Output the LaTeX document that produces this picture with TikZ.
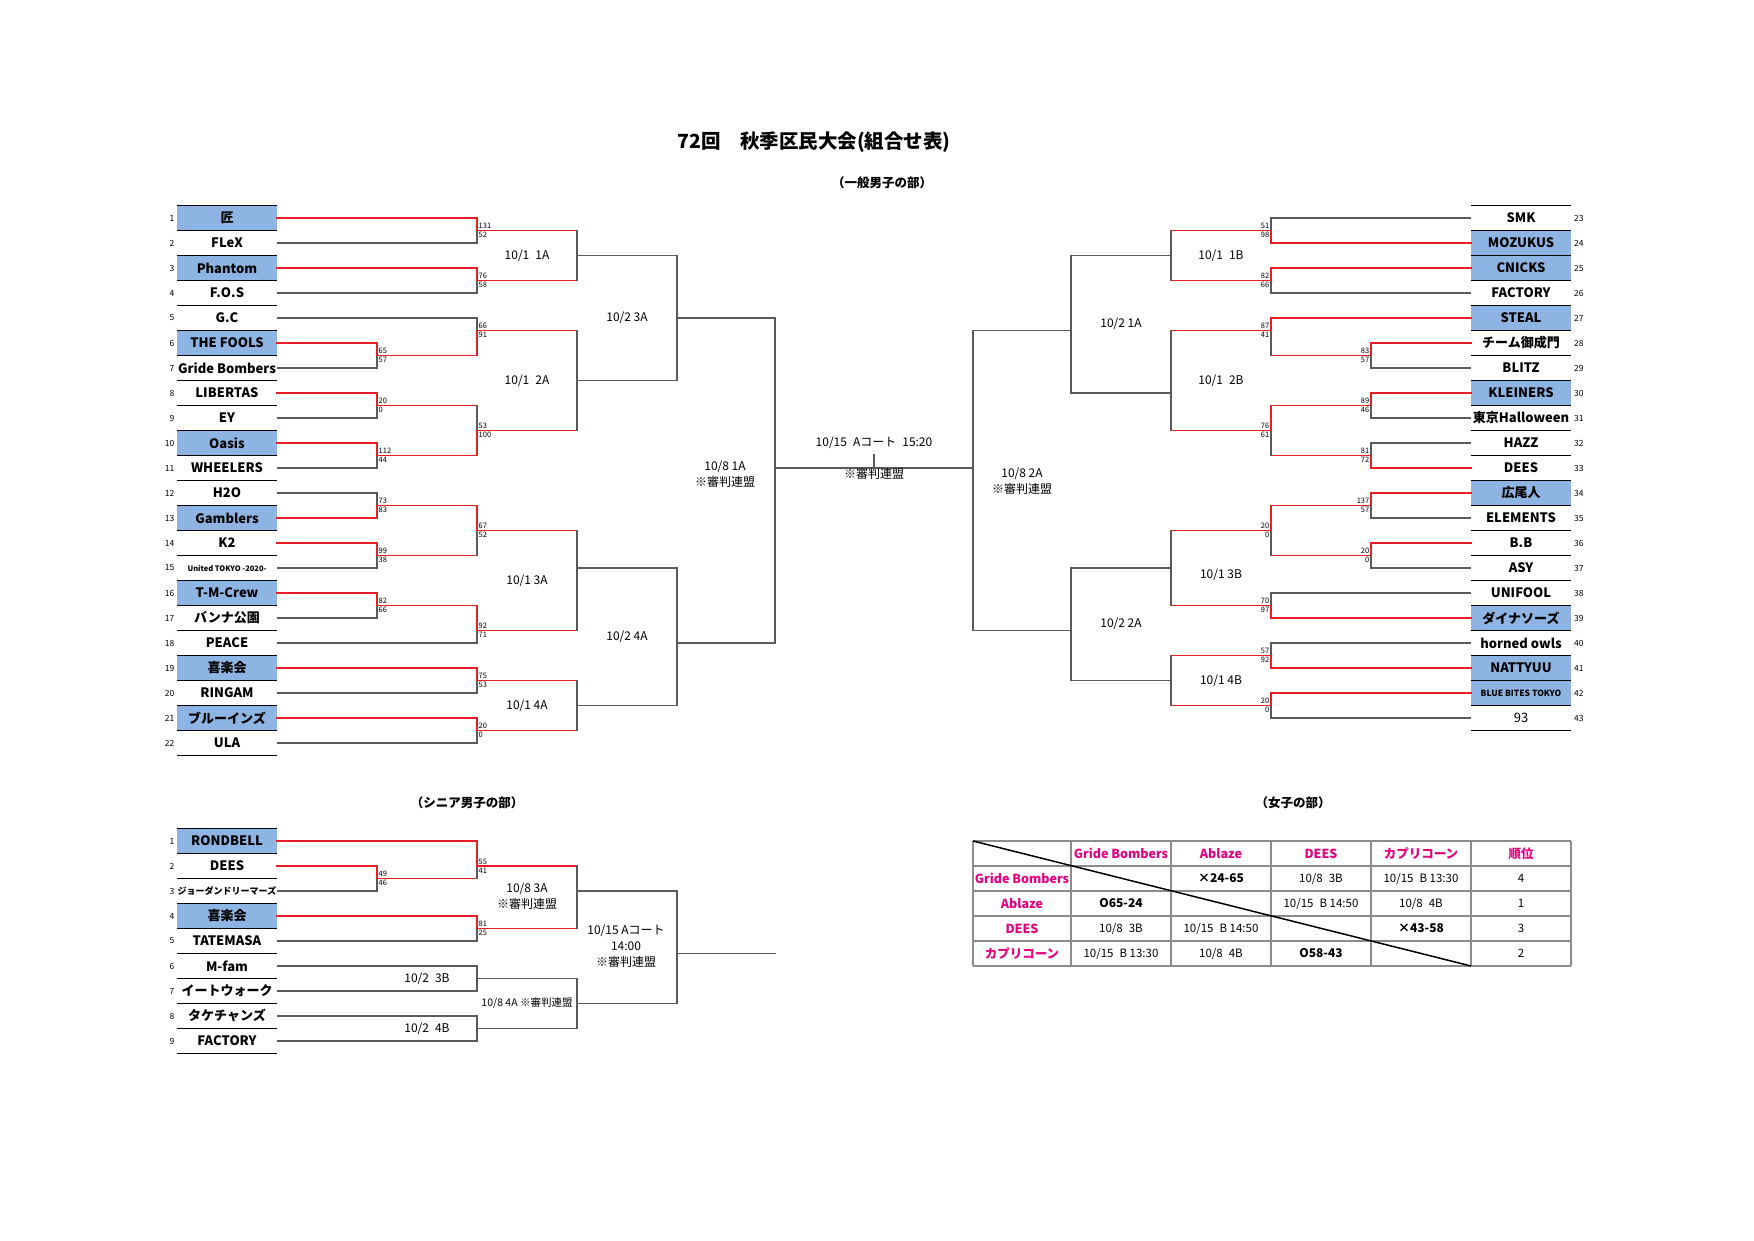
\documentclass[tikz,border=0pt]{standalone}
\usepackage{fontspec}
\setmainfont{Noto Sans CJK JP}
\usetikzlibrary{calc}
\definecolor{seedblue}{RGB}{141,180,226}
\definecolor{winred}{RGB}{232,30,37}
\definecolor{linegray}{RGB}{90,90,90}
\definecolor{gridgray}{RGB}{140,140,140}
\definecolor{headpink}{RGB}{230,0,126}
\tikzstyle{team} = [minimum width=100pt, minimum height=25pt, inner sep=0pt, font=\fontsize{13}{15}\selectfont\bfseries]
\tikzstyle{num} = [inner sep=0pt, font=\fontsize{8.5}{10}\selectfont]
\tikzstyle{score} = [inner sep=1.5pt, font=\fontsize{7.5}{8}\selectfont]
\tikzstyle{date} = [inner sep=0pt, font=\fontsize{12}{16}\selectfont]
\tikzstyle{title} = [font=\fontsize{19.5}{22}\selectfont\bfseries]
\tikzstyle{section} = [font=\fontsize{12.5}{14}\selectfont\bfseries]
\tikzstyle{rule} = [draw=black, line width=1.5pt]
\tikzstyle{win} = [draw=winred, line width=1.5pt, line cap=rect]
\tikzstyle{lose} = [draw=linegray, line width=1.2pt, line cap=rect]
\tikzstyle{grid} = [draw=gridgray, line width=1.5pt]
\tikzstyle{diag} = [draw=black, line width=1.5pt]
\tikzstyle{head} = [font=\fontsize{12.5}{14}\selectfont\bfseries, text=headpink]
\tikzstyle{cell} = [font=\fontsize{11.5}{13}\selectfont]
\tikzstyle{result} = [font=\fontsize{12}{14}\selectfont\bfseries]
% one team line into a junction: horizontal part, then vertical part
\newcommand{\feed}[4]{\draw[#3] (#1) -- (#1 -| #2); \draw[#4] (#1 -| #2) -- (#2);}
% a game: name, point, loser feed, winner feed
\newcommand{\bout}[8]{\coordinate (#1) at #2; \feed{#3}{#1}{#4}{#5} \feed{#6}{#1}{#7}{#8}}
\newcommand{\ptsL}[3]{\node (#1u) [score, anchor=south west] at (#1) {#2}; \node (#1d) [score, anchor=north west] at (#1) {#3};}
\newcommand{\ptsR}[3]{\node (#1u) [score, anchor=south east] at (#1) {#2}; \node (#1d) [score, anchor=north east] at (#1) {#3};}
\newcommand{\gap}{\hspace{6pt}}

\begin{document}
\begin{tikzpicture}[x=1pt, y=-1pt]
\useasboundingbox (0,0) rectangle (1754,1240);
\node (title) [title] at (814,142) {72回　秋季区民大会(組合せ表)};
\node (general) [section] at (882,183) {（一般男子の部）};
\node (senior) [section] at (467,803) {（シニア男子の部）};
\node (women) [section] at (1293,803) {（女子の部）};

% left block
\foreach \n/\name/\shade in {1/匠/seedblue, 2/FLeX/none, 3/Phantom/seedblue, 4/F.O.S/none, 5/G.C/none, 6/THE FOOLS/seedblue, 7/Gride Bombers/none, 8/LIBERTAS/none, 9/EY/none, 10/Oasis/seedblue, 11/WHEELERS/none, 12/H2O/none, 13/Gamblers/seedblue, 14/K2/none, 15/{\fontsize{7.5}{9}\selectfont United TOKYO -2020-}/none, 16/T-M-Crew/seedblue, 17/バンナ公園/none, 18/PEACE/none, 19/喜楽会/seedblue, 20/RINGAM/none, 21/ブルーインズ/seedblue, 22/ULA/none}{
  \node (team\n) [team, fill=\shade] at (227,{193+25*\n}) {\name};
  \node (num\n) [num, anchor=east] at (174.5,{193+25*\n}) {\n};
  \draw[rule] (team\n.north west) -- (team\n.north east) (team\n.south west) -- (team\n.south east);
}
% right block
\foreach \n/\name/\shade in {23/SMK/none, 24/MOZUKUS/seedblue, 25/CNICKS/seedblue, 26/FACTORY/none, 27/STEAL/seedblue, 28/チーム御成門/none, 29/BLITZ/none, 30/KLEINERS/seedblue, 31/東京Halloween/none, 32/HAZZ/none, 33/DEES/none, 34/広尾人/seedblue, 35/ELEMENTS/none, 36/B.B/none, 37/ASY/none, 38/UNIFOOL/none, 39/ダイナソーズ/seedblue, 40/horned owls/none, 41/NATTYUU/seedblue, 42/{\fontsize{8.5}{10}\selectfont BLUE BITES TOKYO}/seedblue, 43/{\mdseries 93}/none}{
  \node (team\n) [team, fill=\shade] at (1521,{25*\n-357}) {\name};
  \node (num\n) [num, anchor=west] at (1574,{25*\n-357}) {\n};
  \draw[rule] (team\n.north west) -- (team\n.north east) (team\n.south west) -- (team\n.south east);
}
% senior block
\foreach \n/\name/\shade in {1/RONDBELL/seedblue, 2/DEES/none, 3/{\fontsize{9}{10}\selectfont ジョーダンドリーマーズ}/none, 4/喜楽会/seedblue, 5/TATEMASA/none, 6/M-fam/none, 7/イートウォーク/none, 8/タケチャンズ/none, 9/FACTORY/none}{
  \node (senior\n) [team, fill=\shade] at (227,{816+25*\n}) {\name};
  \node (snum\n) [num, anchor=east] at (174.5,{816+25*\n}) {\n};
  \draw[rule] (senior\n.north west) -- (senior\n.north east) (senior\n.south west) -- (senior\n.south east);
}

% left games
\bout{a6}{(377,355.5)}{team7.east}{lose}{lose}{team6.east}{win}{win}
\ptsL{a6}{65}{57}
\bout{a8}{(377,405.5)}{team9.east}{lose}{lose}{team8.east}{win}{win}
\ptsL{a8}{20}{0}
\bout{a10}{(377,455.5)}{team11.east}{lose}{lose}{team10.east}{win}{win}
\ptsL{a10}{112}{44}
\bout{a12}{(377,505.5)}{team12.east}{lose}{lose}{team13.east}{win}{win}
\ptsL{a12}{73}{83}
\bout{a14}{(377,555.5)}{team15.east}{lose}{lose}{team14.east}{win}{win}
\ptsL{a14}{99}{38}
\bout{a16}{(377,605.5)}{team17.east}{lose}{lose}{team16.east}{win}{win}
\ptsL{a16}{82}{66}
\bout{b1}{(477,230.5)}{team2.east}{lose}{lose}{team1.east}{win}{win}
\ptsL{b1}{131}{52}
\bout{b3}{(477,280.5)}{team4.east}{lose}{lose}{team3.east}{win}{win}
\ptsL{b3}{76}{58}
\bout{b5}{(477,330.5)}{team5.east}{lose}{lose}{a6}{win}{win}
\ptsL{b5}{66}{91}
\bout{b9}{(477,430.5)}{a8}{win}{lose}{a10}{win}{win}
\ptsL{b9}{53}{100}
\bout{b13}{(477,530.5)}{a14}{win}{lose}{a12}{win}{win}
\ptsL{b13}{67}{52}
\bout{b17}{(477,630.5)}{team18.east}{lose}{lose}{a16}{win}{win}
\ptsL{b17}{92}{71}
\bout{b19}{(477,680.5)}{team20.east}{lose}{lose}{team19.east}{win}{win}
\ptsL{b19}{75}{53}
\bout{b21}{(477,730.5)}{team22.east}{lose}{lose}{team21.east}{win}{win}
\ptsL{b21}{20}{0}
\bout{c1}{(577,255.5)}{b1}{win}{lose}{b3}{win}{lose}
\bout{c2}{(577,380.5)}{b5}{win}{lose}{b9}{win}{lose}
\bout{c3}{(577,568)}{b13}{win}{lose}{b17}{win}{lose}
\bout{c4}{(577,705.5)}{b19}{win}{lose}{b21}{win}{lose}
\bout{d1}{(677,318)}{c1}{lose}{lose}{c2}{lose}{lose}
\bout{d2}{(677,643)}{c3}{lose}{lose}{c4}{lose}{lose}
\bout{semiL}{(775,468)}{d1}{lose}{lose}{d2}{lose}{lose}

% right games
\bout{e6}{(1371,355.5)}{team29.west}{lose}{lose}{team28.west}{win}{win}
\ptsR{e6}{83}{57}
\bout{e8}{(1371,405.5)}{team31.west}{lose}{lose}{team30.west}{win}{win}
\ptsR{e8}{89}{46}
\bout{e10}{(1371,455.5)}{team32.west}{lose}{lose}{team33.west}{win}{win}
\ptsR{e10}{81}{72}
\bout{e12}{(1371,505.5)}{team35.west}{lose}{lose}{team34.west}{win}{win}
\ptsR{e12}{137}{57}
\bout{e14}{(1371,555.5)}{team37.west}{lose}{lose}{team36.west}{win}{win}
\ptsR{e14}{20}{0}
\bout{f1}{(1271,230.5)}{team23.west}{lose}{lose}{team24.west}{win}{win}
\ptsR{f1}{51}{98}
\bout{f3}{(1271,280.5)}{team26.west}{lose}{lose}{team25.west}{win}{win}
\ptsR{f3}{82}{66}
\bout{f5}{(1271,330.5)}{e6}{win}{lose}{team27.west}{win}{win}
\ptsR{f5}{87}{41}
\bout{f9}{(1271,430.5)}{e10}{win}{lose}{e8}{win}{win}
\ptsR{f9}{76}{61}
\bout{f13}{(1271,530.5)}{e14}{win}{lose}{e12}{win}{win}
\ptsR{f13}{20}{0}
\bout{f16}{(1271,605.5)}{team38.west}{lose}{lose}{team39.west}{win}{win}
\ptsR{f16}{70}{97}
\bout{f18}{(1271,655.5)}{team40.west}{lose}{lose}{team41.west}{win}{win}
\ptsR{f18}{57}{92}
\bout{f20}{(1271,705.5)}{team43.west}{lose}{lose}{team42.west}{win}{win}
\ptsR{f20}{20}{0}
\bout{g1}{(1171,255.5)}{f1}{win}{lose}{f3}{win}{lose}
\bout{g2}{(1171,393)}{f5}{win}{lose}{f9}{win}{lose}
\bout{g3}{(1171,568)}{f13}{win}{lose}{f16}{win}{lose}
\bout{g4}{(1171,680.5)}{f18}{win}{lose}{f20}{win}{lose}
\bout{h1}{(1071,330.5)}{g1}{lose}{lose}{g2}{lose}{lose}
\bout{h2}{(1071,630.5)}{g3}{lose}{lose}{g4}{lose}{lose}
\bout{semiR}{(973,468)}{h1}{lose}{lose}{h2}{lose}{lose}
\draw[lose] (semiL) -- (semiR);
\coordinate (tick) at (874,455);
\draw[lose] (tick) -- (tick |- semiL);

% senior games
\bout{p2}{(377,878.5)}{senior3.east}{lose}{lose}{senior2.east}{win}{win}
\ptsL{p2}{49}{46}
\bout{q1}{(477,866)}{p2}{win}{lose}{senior1.east}{win}{win}
\ptsL{q1}{55}{41}
\bout{q4}{(477,928.5)}{senior5.east}{lose}{lose}{senior4.east}{win}{win}
\ptsL{q4}{81}{25}
\bout{q6}{(477,978.5)}{senior6.east}{lose}{lose}{senior7.east}{lose}{lose}
\bout{q8}{(477,1028.5)}{senior8.east}{lose}{lose}{senior9.east}{lose}{lose}
\bout{r3}{(577,891)}{q1}{win}{lose}{q4}{win}{lose}
\bout{r4}{(577,1003.5)}{q6}{lose}{lose}{q8}{lose}{lose}
\bout{s1}{(677,953.5)}{r3}{lose}{lose}{r4}{lose}{lose}
\coordinate (sEnd) at (775,953.5);
\draw[lose] (s1) -- (sEnd);

% dates
\node (lab1A) [date] at (527,255.5) {10/1\gap 1A};
\node (lab2A) [date] at (527,380.5) {10/1\gap 2A};
\node (lab3A) [date] at (527,580.5) {10/1 3A};
\node (lab4A) [date] at (527,705.5) {10/1 4A};
\node (lab23A) [date] at (627,318) {10/2 3A};
\node (lab24A) [date] at (627,637) {10/2 4A};
\node (labS1) [date, align=center] at (725,474) {10/8 1A\\※審判連盟};
\node (lab1B) [date] at (1221,255.5) {10/1\gap 1B};
\node (lab2B) [date] at (1221,380.5) {10/1\gap 2B};
\node (lab3B) [date] at (1221,574.5) {10/1 3B};
\node (lab4B) [date] at (1221,680.5) {10/1 4B};
\node (lab21A) [date] at (1121,324) {10/2 1A};
\node (lab22A) [date] at (1121,624) {10/2 2A};
\node (labS2) [date, align=center] at (1022,481) {10/8 2A\\※審判連盟};
\node (labF) [date] at (874,443) {10/15\gap Aコート\gap 15:20};
\node (labF2) [date] at (874,474) {※審判連盟};
\node (lab3B2) [date] at (427,978.5) {10/2\gap 3B};
\node (lab4B2) [date] at (427,1028.5) {10/2\gap 4B};
\node (lab83A) [date, align=center] at (527,896) {10/8 3A\\※審判連盟};
\node (lab84A) [date, font=\fontsize{10.5}{12}\selectfont] at (527,1003.5) {10/8 4A ※審判連盟};
\node (labSF) [date, align=center] at (626,946) {10/15 Aコート\\14:00\\※審判連盟};

% women table
\foreach \xx in {973,1071,1171,1271,1371,1471,1571} \draw[grid] (\xx,841) -- (\xx,966);
\foreach \yy in {841,866,891,916,941,966} \draw[grid] (973,\yy) -- (1571,\yy);
\draw[diag] (973,841) -- (1471,966);
\node (h2) [head] at (1121,853.5) {Gride Bombers};
\node (h3) [head] at (1221,853.5) {Ablaze};
\node (h4) [head] at (1321,853.5) {DEES};
\node (h5) [head] at (1421,853.5) {カプリコーン};
\node (h6) [head] at (1521,853.5) {順位};
\node (v2) [head] at (1022,878.5) {Gride Bombers};
\node (v3) [head] at (1022,903.5) {Ablaze};
\node (v4) [head] at (1022,928.5) {DEES};
\node (v5) [head] at (1022,953.5) {カプリコーン};
\node (c23) [result] at (1221,878.5) {×24-65};
\node (c24) [cell] at (1321,878.5) {10/8\gap 3B};
\node (c25) [cell] at (1421,878.5) {10/15\gap B 13:30};
\node (c26) [cell] at (1521,878.5) {4};
\node (c32) [result] at (1121,903.5) {O65-24};
\node (c34) [cell] at (1321,903.5) {10/15\gap B 14:50};
\node (c35) [cell] at (1421,903.5) {10/8\gap 4B};
\node (c36) [cell] at (1521,903.5) {1};
\node (c42) [cell] at (1121,928.5) {10/8\gap 3B};
\node (c43) [cell] at (1221,928.5) {10/15\gap B 14:50};
\node (c45) [result] at (1421,928.5) {×43-58};
\node (c46) [cell] at (1521,928.5) {3};
\node (c52) [cell] at (1121,953.5) {10/15\gap B 13:30};
\node (c53) [cell] at (1221,953.5) {10/8\gap 4B};
\node (c54) [result] at (1321,953.5) {O58-43};
\node (c56) [cell] at (1521,953.5) {2};
\end{tikzpicture}
\end{document}
